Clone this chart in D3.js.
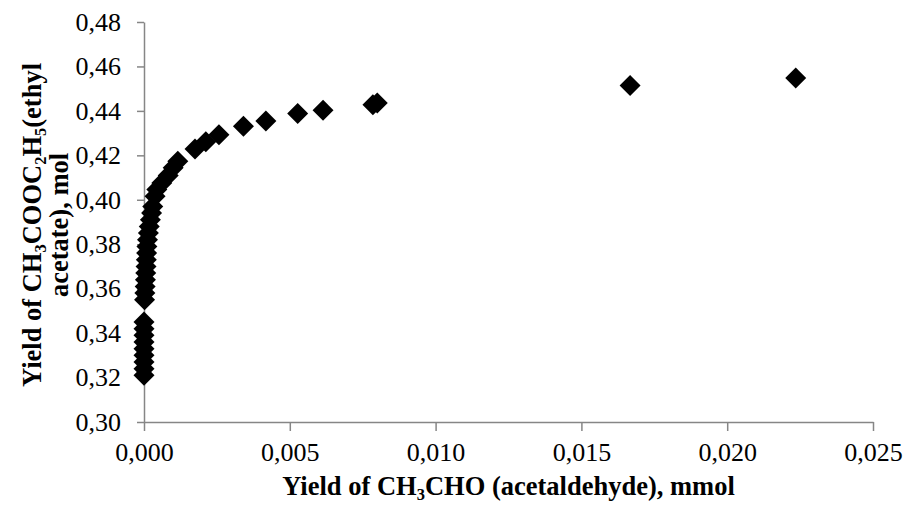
<!DOCTYPE html>
<html>
<head>
<meta charset="utf-8">
<script src="https://cdn.jsdelivr.net/npm/d3@7"></script>
<style>
  body { margin: 0; background: #fff; }
  svg text { font-family: "Liberation Serif", "Times New Roman", serif; fill: #000; }
</style>
</head>
<body>
<svg id="chart" width="906" height="506"></svg>
<script>
// Acetaldehyde yield (mmol) vs ethyl acetate yield (mol)
const acetaldehyde = [
  0.00000, 0.00000, 0.00000, 0.00000, 0.00000, 0.00000, 0.00000, 0.00000, 0.00000,
  0.00002, 0.00003, 0.00004, 0.00005, 0.00006, 0.00007, 0.00008, 0.00009, 0.00010,
  0.00012, 0.00015, 0.00018, 0.00022, 0.00026, 0.00030, 0.00038, 0.00044, 0.00061,
  0.00083, 0.00100, 0.00116, 0.00175, 0.00212, 0.00257, 0.00341, 0.00418, 0.00527,
  0.00614, 0.00785, 0.00800, 0.01667, 0.02235
];
const ethylAcetate = [
  0.3210, 0.3240, 0.3270, 0.3300, 0.3330, 0.3360, 0.3390, 0.3420, 0.3450,
  0.3550, 0.3580, 0.3610, 0.3640, 0.3670, 0.3700, 0.3730, 0.3760, 0.3790,
  0.3820, 0.3850, 0.3880, 0.3910, 0.3940, 0.3970, 0.4016, 0.4046, 0.4076,
  0.4109, 0.4144, 0.4173, 0.4229, 0.4261, 0.4293, 0.4331, 0.4355, 0.4388,
  0.4403, 0.4428, 0.4435, 0.4514, 0.4548
];
const xTicks = [0, 0.005, 0.010, 0.015, 0.020, 0.025];
const yTicks = [0.30, 0.32, 0.34, 0.36, 0.38, 0.40, 0.42, 0.44, 0.46, 0.48];

const svg = d3.select("#chart");
const plot = { left: 144, right: 873, top: 22, bottom: 422 };
const axisColor = "#868686";

const x = d3.scaleLinear().domain([0, 0.025]).range([plot.left, plot.right]);
const y = d3.scaleLinear().domain([0.30, 0.48]).range([plot.bottom, plot.top]);

const commaFmt = digits => v => v.toFixed(digits).replace(".", ",");

// X axis
const gx = svg.append("g")
  .attr("transform", `translate(0,${plot.bottom})`)
  .call(d3.axisBottom(x).tickValues(xTicks).tickFormat(commaFmt(3))
    .tickSizeInner(9).tickSizeOuter(0).tickPadding(12));
// Y axis
const gy = svg.append("g")
  .attr("transform", `translate(${plot.left},0)`)
  .call(d3.axisLeft(y).tickValues(yTicks).tickFormat(commaFmt(2))
    .tickSizeInner(7).tickSizeOuter(0).tickPadding(16));

[gx, gy].forEach(g => {
  g.select(".domain").attr("stroke", axisColor).attr("stroke-width", 1.5);
  g.selectAll(".tick line").attr("stroke", axisColor).attr("stroke-width", 1.5);
  g.selectAll(".tick text")
    .attr("font-family", "Liberation Serif, Times New Roman, serif")
    .attr("font-size", 26).attr("fill", "#000");
});

// Points as diamonds
const diamond = d3.symbol(d3.symbolSquare, 220);
svg.append("g").selectAll("path")
  .data(acetaldehyde.map((v, i) => [v, ethylAcetate[i]]))
  .join("path")
  .attr("d", diamond)
  .attr("transform", d => `translate(${x(d[0])},${y(d[1])}) rotate(45)`)
  .attr("fill", "#000");

// Axis titles with subscripts: parts are strings, or {sub} for subscript runs
function addRich(textSel, parts, size) {
  const shift = size * 0.2;
  let lowered = false;
  parts.forEach(p => {
    const t = textSel.append("tspan");
    if (typeof p === "string") {
      if (lowered) t.attr("dy", -shift);
      lowered = false;
      t.text(p);
    } else {
      t.attr("font-size", size * 0.62).attr("dy", shift).text(p.sub);
      lowered = true;
    }
  });
}

const titleSize = 26.5;
const xt = svg.append("text")
  .attr("x", (plot.left + plot.right) / 2).attr("y", 495)
  .attr("text-anchor", "middle").attr("font-weight", "bold").attr("font-size", titleSize);
addRich(xt, ["Yield of CH", {sub: "3"}, "CHO (acetaldehyde), mmol"], titleSize);

const cy = (plot.top + plot.bottom) / 2 + 3;
const yt1 = svg.append("text")
  .attr("transform", `translate(41,${cy}) rotate(-90)`)
  .attr("text-anchor", "middle").attr("font-weight", "bold").attr("font-size", titleSize);
addRich(yt1, ["Yield of CH", {sub: "3"}, "COOC", {sub: "2"}, "H", {sub: "5"}, "(ethyl"], titleSize);
svg.append("text")
  .attr("transform", `translate(68,${cy}) rotate(-90)`)
  .attr("text-anchor", "middle").attr("font-weight", "bold").attr("font-size", titleSize)
  .text("acetate), mol");
</script>
</body>
</html>
